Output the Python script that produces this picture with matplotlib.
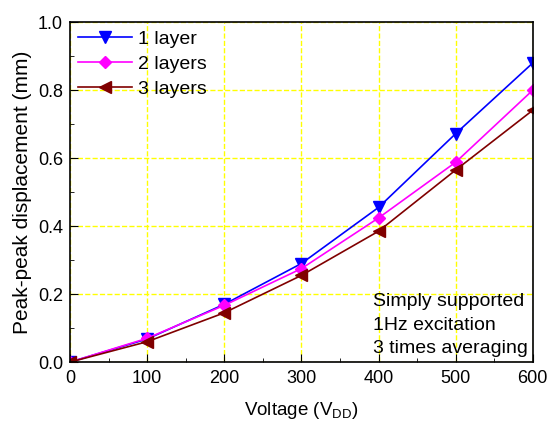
import matplotlib
matplotlib.use("Agg")
import matplotlib.pyplot as plt
from matplotlib.ticker import MultipleLocator

plt.rcParams["font.family"] = ["Liberation Sans", "DejaVu Sans"]
plt.rcParams["mathtext.fontset"] = "custom"
plt.rcParams["mathtext.rm"] = "Liberation Sans"

voltage = [0, 100, 200, 300, 400, 500, 600]
one_layer = [0.0, 0.068, 0.170, 0.290, 0.455, 0.672, 0.880]
two_layers = [0.0, 0.070, 0.167, 0.275, 0.424, 0.588, 0.800]
three_layers = [0.0, 0.060, 0.145, 0.255, 0.385, 0.565, 0.741]
labels = ["1 layer", "2 layers", "3 layers"]

fig = plt.figure(figsize=(5.49, 4.26), dpi=100)
ax = fig.add_axes([0.1275, 0.150, 0.843, 0.798])

ax.plot(voltage, one_layer, color="#0000FF", marker="v", markersize=8, lw=1.2, label=labels[0])
ax.plot(voltage, two_layers, color="#FF00FF", marker="D", markersize=6, lw=1.2, label=labels[1])
ax.plot(voltage, three_layers, color="#800000", marker="<", markersize=8, lw=1.2, label=labels[2])

ax.set_xlim(0, 600)
ax.set_ylim(0, 1.0)
ax.xaxis.set_major_locator(MultipleLocator(100))
ax.xaxis.set_minor_locator(MultipleLocator(50))
ax.yaxis.set_major_locator(MultipleLocator(0.2))
ax.yaxis.set_minor_locator(MultipleLocator(0.1))
ax.yaxis.set_major_formatter(plt.FuncFormatter(lambda v, p: f"{v:.1f}"))
ax.tick_params(which="both", direction="in", labelsize=13, top=False, right=False)
ax.tick_params(which="major", length=6)
ax.tick_params(which="minor", length=3)
ax.tick_params(axis="x", pad=6)
ax.tick_params(axis="y", pad=5)
ax.grid(True, which="major", color="#FFFF00", linestyle="--", lw=1)
for s in ax.spines.values():
    s.set_linewidth(1.2)

ax.set_xlabel("Voltage (V$_{\\rm DD}$)", fontsize=13.5, labelpad=9)
ax.set_ylabel("Peak-peak displacement (mm)", fontsize=15, labelpad=4)

ax.legend(loc="upper left", frameon=False, fontsize=14, handlelength=2.8,
          handletextpad=0.3, borderaxespad=0.2, borderpad=0.2, labelspacing=0.38)

ax.text(0.655, 0.015, "Simply supported\n1Hz excitation\n3 times averaging",
        transform=ax.transAxes, ha="left", va="bottom", fontsize=14, linespacing=1.5)

fig.savefig("out.png", dpi=100)
